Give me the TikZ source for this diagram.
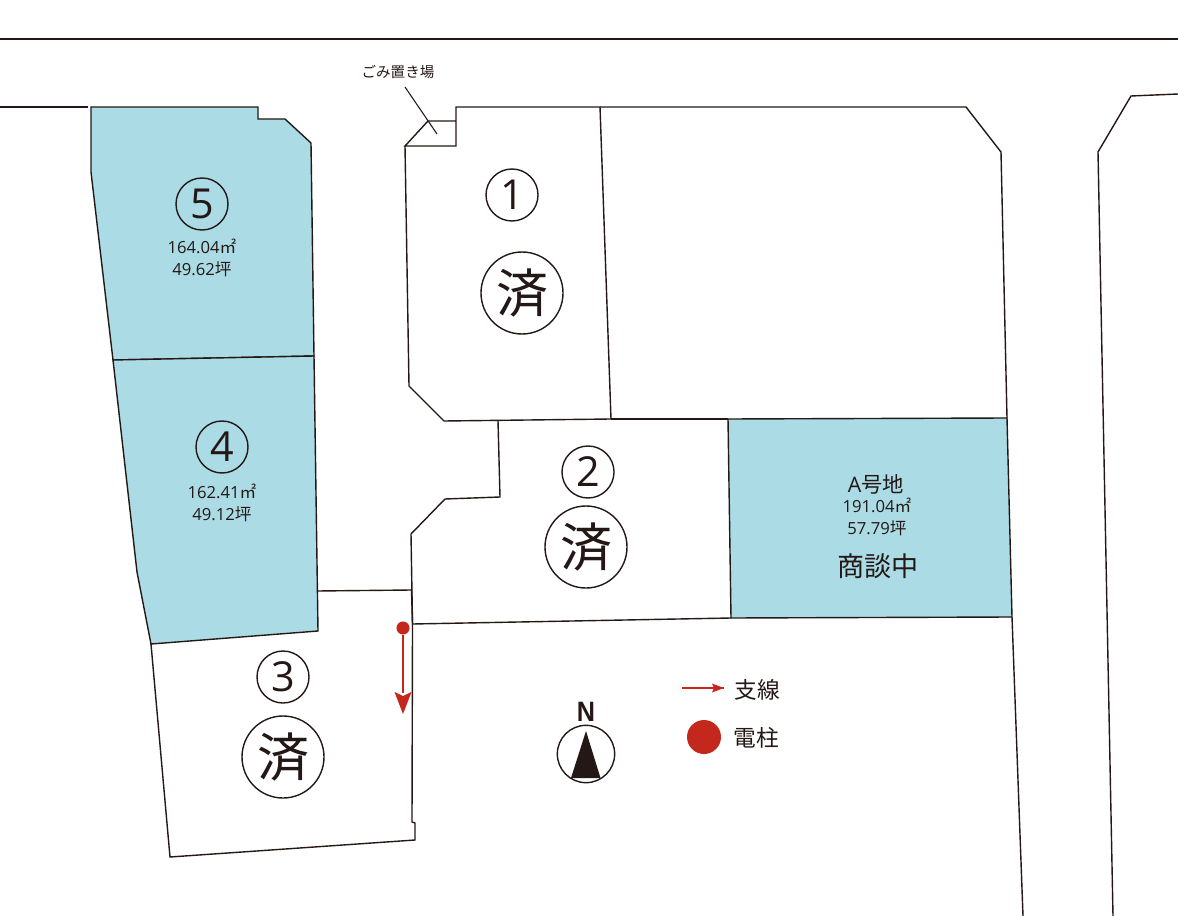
\documentclass[tikz,border=0pt]{standalone}
\usepackage{fontspec}
\setmainfont{Noto Sans CJK JP}[Scale=1]
\newfontfamily\latinfont{Open Sans}
\newfontfamily\boldlatin{Liberation Sans}[FakeStretch=0.9]
\definecolor{lotblue}{HTML}{ABDBE5}
\definecolor{inkblack}{HTML}{231815}
\definecolor{polered}{HTML}{C4281C}
\newcommand{\fs}[2][1]{\fontsize{#2}{#1\dimexpr #2\relax}\selectfont}
\tikzset{
  lot/.style={draw=inkblack,line width=1.05pt,line join=miter},
  salelot/.style={lot,fill=lotblue},
  plain/.style={draw=inkblack,line width=1.05pt},
  numcircle/.style={circle,draw=inkblack,line width=1.05pt,minimum size=39pt,inner sep=0pt,text=inkblack,font=\latinfont\fs{31pt}},
  soldcircle/.style={circle,draw=inkblack,line width=1.05pt,fill=white,minimum size=61.5pt,inner sep=0pt,text=inkblack,font=\fs{39pt}},
  info/.style={text=inkblack,align=center,inner sep=0pt,font=\fs[1.32]{12.5pt}},
  legend/.style={text=inkblack,inner sep=0pt,font=\fs{17pt}},
  redline/.style={draw=polered,line width=1.1pt},
}
\begin{document}
\begin{tikzpicture}[x=0.75pt,y=-0.75pt]
\useasboundingbox (0,0) rectangle (1178,916);
% roads
\draw[plain] (0,39) -- (1178,39);
\draw[plain,line width=.9pt] (0,107) -- (88,107);
\draw[plain] (1178,94) -- (1131,96) -- (1098,152) -- (1113,916);
\draw[plain] (1012,617) -- (1023,916);
% lots
\path[salelot] (91,107) -- (258,107) -- (258,119) -- (285,119) -- (311,143) -- (314,356) -- (113,360) -- (91,172) -- cycle;
\path[salelot] (113,360) -- (314,356) -- (318,631) -- (151,644) -- (137,572) -- cycle;
\draw[plain] (151,644) -- (170,857) -- (415,840) -- (415,823) -- (412,822) -- (412.5,624) -- (411.5,590) -- (317,591);
\draw[plain] (405,146) -- (409,386) -- (444,421) -- (611,419) -- (600,107) -- (456,107) -- (456,146) -- (405,146) -- (428,121) -- (456,121);
\draw[plain] (600,107) -- (966,107) -- (1001,152) -- (1007,418);
\draw[plain] (611,419) -- (728,419);
\draw[plain] (498,421) -- (500,497) -- (445,499) -- (411,534) -- (412.5,624) -- (731,618);
\path[salelot] (728,419) -- (1007,418) -- (1012,617) -- (731,618) -- cycle;
% trash label
\node[text=inkblack,inner sep=0pt,font=\fs{10.9pt}] (gomi) at (398,72) {ごみ置き場};
\coordinate (gomiend) at (437,134);
\draw[plain,line width=.8pt] (405,87) -- (gomiend);
% lot 5
\node[numcircle] (n5) at (202,204) {5};
\node[info] (i5) at (202,258) {\latinfont 164.04{\rmfamily ㎡}\\\latinfont 49.62{\rmfamily 坪}};
% lot 4
\node[numcircle] (n4) at (222,447) {4};
\node[info] (i4) at (222,503) {\latinfont 162.41{\rmfamily ㎡}\\\latinfont 49.12{\rmfamily 坪}};
% lot 1
\node[numcircle] (n1) at (512,195) {1};
\node[soldcircle] (s1) at (522,293) {済};
% lot 2
\node[numcircle] (n2) at (588,472) {2};
\node[soldcircle] (s2) at (586,547) {済};
% lot 3
\node[numcircle] (n3) at (283,677) {3};
\node[soldcircle] (s3) at (283,757) {済};
% lot A
\node[info,font=\fs{16pt}] (ta) at (876,484) {\latinfont A{\rmfamily 号地}};
\node[info] (ia) at (877,517) {\latinfont 191.04{\rmfamily ㎡}\\\latinfont 57.79{\rmfamily 坪}};
\node[info,font=\fs{20.3pt}] (sa) at (878,566) {商談中};
% pole and stay wire
\node[circle,fill=polered,minimum size=9.8pt,inner sep=0pt] (pole) at (403,628) {};
\coordinate (stayend) at (403,714);
\coordinate (stayneck) at (403,693);
\draw[redline,line width=1.6pt] (pole) -- (stayneck);
\fill[polered] (394.5,692) -- (403,696) -- (411.5,692) -- (stayend) -- cycle;
% north
\node[circle,draw=inkblack,line width=1.05pt,minimum size=43pt,inner sep=0pt] (north) at (586,754) {};
\fill[inkblack] (586,731) -- (600.5,778) -- (571,778) -- cycle;
\node[text=inkblack,inner sep=0pt,font=\boldlatin\bfseries\fs{21pt}] (nl) at (586,712) {N};
% legend
\coordinate (la) at (682,688);
\coordinate (lb) at (724,688);
\draw[redline] (la) -- (lb);
\fill[polered] (724,688) -- (712,683.5) -- (714,688) -- (712,692.5) -- cycle;
\node[legend] (t1) at (757,690) {支線};
\node[circle,fill=polered,minimum size=25.5pt,inner sep=0pt] (dot) at (704,737) {};
\node[legend] (t2) at (756,738) {電柱};
\end{tikzpicture}
\end{document}
